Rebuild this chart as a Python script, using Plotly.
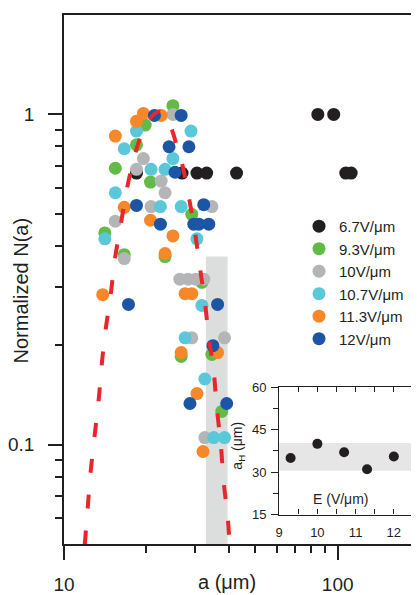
import plotly.graph_objects as go
import numpy as np

# ---------------- data ----------------
series_names = ["6.7V/μm", "9.3V/μm", "10V/μm", "10.7V/μm", "11.3V/μm", "12V/μm"]
series_colors = ["#231f20", "#62bb46", "#b4b5b7", "#5bc8d9", "#f6882a", "#1d55a5"]

a_67 = [18.4, 27.0, 30.6, 33.2, 42.7, 84.6, 96.7, 107, 112]
n_67 = [0.664, 0.664, 0.664, 0.664, 0.664, 1.0, 1.0, 0.664, 0.664]

a_93 = [25.0, 19.8, 18.4, 15.4, 20.7, 29.3, 14.1, 16.6, 23.4, 31.9, 34.7, 26.8, 37.7]
n_93 = [1.063, 0.928, 0.809, 0.687, 0.624, 0.498, 0.4375, 0.376, 0.371, 0.31, 0.1875, 0.185, 0.126]

a_10 = [25.0, 19.5, 18.4, 22.65, 23.4, 20.8, 34.7, 15.4, 16.6, 26.5, 28.4, 30.3, 32.4, 29.3, 38.6, 32.7]
n_10 = [1.0, 0.735, 0.682, 0.628, 0.579, 0.526, 0.526, 0.475, 0.366, 0.317, 0.317, 0.317, 0.317, 0.2106, 0.2106, 0.105]

a_107 = [18.4, 29.1, 16.6, 25.0, 20.8, 23.4, 15.4, 22.5, 26.8, 14.1, 30.6, 31.9, 27.7, 32.7, 35.25, 38.6]
n_107 = [0.890, 0.890, 0.787, 0.735, 0.682, 0.682, 0.579, 0.526, 0.526, 0.420, 0.420, 0.264, 0.2106, 0.158, 0.105, 0.105]

a_113 = [19.5, 22.65, 18.4, 15.4, 16.6, 20.7, 25.0, 23.4, 13.85, 27.7, 29.3, 36.4, 26.8, 30.6, 32.2]
n_113 = [1.007, 0.993, 0.953, 0.860, 0.523, 0.478, 0.4286, 0.379, 0.2844, 0.2864, 0.2864, 0.190, 0.190, 0.1427, 0.0953]

a_12 = [21.4, 26.8, 24.2, 28.6, 25.45, 18.4, 32.4, 22.5, 29.8, 31.1, 33.8, 17.2, 36.4, 35.0, 28.85, 39.3]
n_12 = [0.993, 0.993, 0.798, 0.798, 0.668, 0.530, 0.533, 0.465, 0.465, 0.465, 0.465, 0.2657, 0.2657, 0.1994, 0.1332, 0.1332]

# red dashed fit curve
fit_a = [11.91, 12.22, 12.53, 12.95, 13.39, 13.73, 14.19, 14.80, 15.30, 16.09, 16.92, 18.08,
         19.33, 20.49, 22.09, 23.61, 24.82, 25.88, 26.99, 28.61, 30.08, 31.36, 32.70, 33.81,
         35.25, 36.14, 37.36, 38.31, 39.61, 40.28]
fit_n = [0.0498, 0.0650, 0.0837, 0.1071, 0.1369, 0.1739, 0.2224, 0.2825, 0.3588, 0.4588, 0.5869, 0.7455,
         0.8844, 0.9664, 1.021, 0.9864, 0.8962, 0.7983, 0.7106, 0.5596, 0.4405, 0.3444, 0.2712, 0.2120,
         0.1658, 0.1296, 0.1014, 0.0771, 0.0607, 0.0498]

# grey band in main plot
band_a = [33.0, 39.6]
band_n = [0.05, 0.371]

# inset
inset_E = [9.3, 10.0, 10.7, 11.3, 12.0]
inset_aH = [35.0, 40.0, 37.0, 31.0, 35.5]
inset_band = [30.5, 40.3]

x_ticks = [10, 100]
y_ticks = [0.1, 1]
inset_x_ticks = [9, 10, 11, 12]
inset_y_ticks = [15, 30, 45, 60]

FONT = "Liberation Sans, Arial, sans-serif"
AXC = "#231f20"

fig = go.Figure()

# main grey band
fig.add_trace(go.Scatter(
    x=[band_a[0], band_a[1], band_a[1], band_a[0]],
    y=[band_n[0], band_n[0], band_n[1], band_n[1]],
    fill="toself", fillcolor="#dcdddd", line=dict(width=0), mode="lines",
    showlegend=False, hoverinfo="skip"))

all_a = [a_67, a_93, a_10, a_107, a_113, a_12]
all_n = [n_67, n_93, n_10, n_107, n_113, n_12]
for name, col, xa, yn in zip(series_names, series_colors, all_a, all_n):
    fig.add_trace(go.Scatter(
        x=xa, y=yn, mode="markers", name=name,
        marker=dict(size=13, color=col, line=dict(width=0))))

fig.add_trace(go.Scatter(
    x=fit_a, y=fit_n, mode="lines", showlegend=False,
    line=dict(color="#e8262b", width=4, dash="14px,22px", shape="spline")))

# inset band and points
fig.add_trace(go.Scatter(
    x=[9, 12.5, 12.5, 9], y=[inset_band[0], inset_band[0], inset_band[1], inset_band[1]],
    fill="toself", fillcolor="#e6e6e6", line=dict(width=0), mode="lines",
    xaxis="x2", yaxis="y2", showlegend=False, hoverinfo="skip"))
fig.add_trace(go.Scatter(
    x=inset_E, y=inset_aH, mode="markers", xaxis="x2", yaxis="y2", showlegend=False,
    marker=dict(size=10, color=AXC)))

fig.update_layout(
    width=411, height=587,
    margin=dict(l=53, r=0, t=1, b=46),
    paper_bgcolor="white", plot_bgcolor="white",
    font=dict(family=FONT, color="#231f20"),
    xaxis=dict(
        type="log", range=[1, 2.297], showgrid=False, zeroline=False,
        showline=True, linecolor=AXC, linewidth=1.5, mirror=True,
        tickmode="array", tickvals=x_ticks, ticktext=["10", "100"],
        ticks="outside", ticklen=14, tickwidth=1.5, tickcolor=AXC,
        ticklabelstandoff=8,
        tickfont=dict(size=19, family=FONT, color="#231f20"),
        minor=dict(tickmode="array", tickvals=[20, 30, 40, 50, 60, 70, 80, 90, 200],
                   ticks="outside", ticklen=7, tickwidth=1.5, tickcolor=AXC, showgrid=False),
    ),
    yaxis=dict(
        type="log", range=[np.log10(0.05), np.log10(2)], showgrid=False, zeroline=False,
        showline=True, linecolor=AXC, linewidth=1.5,
        tickmode="array", tickvals=y_ticks, ticktext=["0.1", "1"],
        ticks="outside", ticklen=14, tickwidth=1.5, tickcolor=AXC,
        ticklabelstandoff=10,
        tickfont=dict(size=19, family=FONT, color="#231f20"),
        minor=dict(tickmode="array",
                   tickvals=[0.06, 0.07, 0.08, 0.09, 0.2, 0.3, 0.4, 0.5, 0.6, 0.7, 0.8, 0.9],
                   ticks="outside", ticklen=7, tickwidth=1.5, tickcolor=AXC, showgrid=False),
    ),
    xaxis2=dict(
        domain=[0.606, 0.983], anchor="y2", range=[9, 12.5], showgrid=False, zeroline=False,
        showline=True, linecolor=AXC, linewidth=1.2, mirror="ticks",
        tickmode="array", tickvals=inset_x_ticks,
        ticks="inside", ticklen=5, tickwidth=1, tickcolor=AXC, ticklabelstandoff=6,
        tickfont=dict(size=13, family=FONT, color="#231f20"),
        minor=dict(dtick=0.5, ticks="inside", ticklen=5, tickwidth=1, tickcolor=AXC, showgrid=False),
    ),
    yaxis2=dict(
        domain=[0.0556, 0.2963], anchor="x2", range=[15, 60], showgrid=False, zeroline=False,
        showline=True, linecolor=AXC, linewidth=1.2, mirror=True,
        tickmode="array", tickvals=inset_y_ticks,
        ticks="outside", ticklen=7, tickwidth=1, tickcolor=AXC, ticklabelstandoff=2,
        tickfont=dict(size=13, family=FONT, color="#231f20"),
        minor=dict(dtick=7.5, tick0=15, ticks="outside", ticklen=5, tickwidth=1, tickcolor=AXC, showgrid=False),
    ),
    legend=dict(
        x=0.662, y=0.6315, xanchor="left", yanchor="top",
        bgcolor="rgba(0,0,0,0)", borderwidth=0,
        font=dict(size=15, family=FONT, color="#231f20"),
        itemwidth=30, tracegroupgap=0,
    ),
    annotations=[
        dict(text="a (μm)", xref="paper", yref="paper", x=0.458, y=-0.072,
             xanchor="center", yanchor="middle", showarrow=False,
             font=dict(size=20, family=FONT, color="#231f20")),
        dict(text="Normalized N(a)", xref="paper", yref="paper", x=-0.12, y=0.48,
             xanchor="center", yanchor="middle", showarrow=False, textangle=-90,
             font=dict(size=20, family=FONT, color="#231f20")),
        dict(text="E (V/μm)", xref="paper", yref="paper", x=0.779, y=0.085,
             xanchor="center", yanchor="middle", showarrow=False,
             font=dict(size=14, family=FONT, color="#231f20")),
        dict(text="a<sub>H</sub> (μm)", xref="paper", yref="paper", x=0.4916, y=0.185,
             xanchor="center", yanchor="middle", showarrow=False, textangle=-90,
             font=dict(size=14, family=FONT, color="#231f20")),
    ],
)

fig.write_html("out.html")
